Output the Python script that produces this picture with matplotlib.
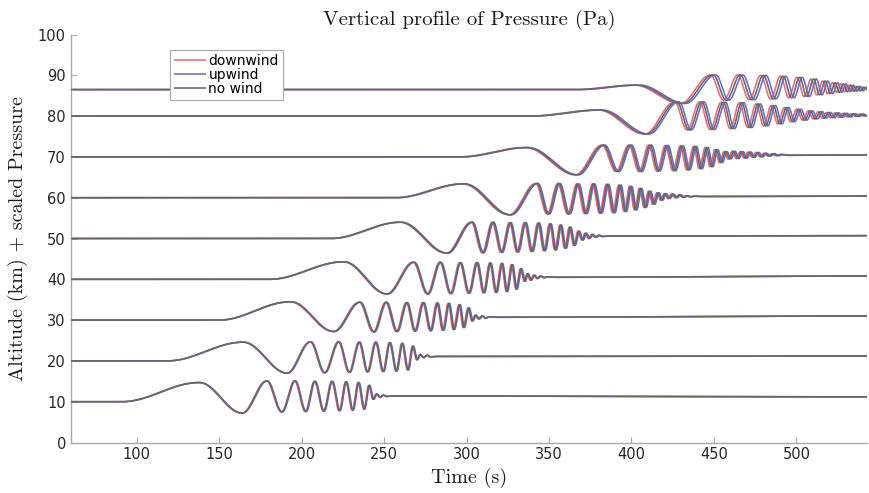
import numpy as np
import matplotlib
matplotlib.use("Agg")
import matplotlib.pyplot as plt

# ---- data ------------------------------------------------------------------
T_START, T_END = 60, 543

BASELINES = [10, 20, 30, 40, 50, 60, 70, 80, 86.5]
ONSETS = [91, 118.6, 149.9, 180.5, 217.5, 257, 296.2, 338.6, 366.9]

# extrema (hump, first trough, then alternating peaks/troughs, tail ripple),
# last entry is the level at the right edge of the plot
EXT_T_10 = [138, 164, 179, 188, 196, 202.5, 208, 213.5, 218.5, 223, 227, 231, 234.5, 238, 241, 243.5,
            245.5, 247.5, 249.5, 251.5, 255, 543]
EXT_V_10 = [14.7, 7.2, 15.1, 7.5, 15.1, 7.6, 15.0, 7.7, 15.0, 7.8, 14.9, 7.9, 14.7, 8.2, 14.0, 10.6,
            11.9, 11.1, 11.6, 11.3, 11.4, 11.2]

EXT_T_20 = [164.6, 191.3, 205.4, 214, 222.5, 229, 235, 240, 245, 249.5, 253.5, 257.5, 261, 264.5, 267.5, 270,
            272, 274, 276, 278, 282, 543]
EXT_V_20 = [24.6, 17.0, 24.7, 17.1, 24.7, 17.2, 24.6, 17.3, 24.6, 17.4, 24.5, 17.5, 24.3, 17.8, 23.6, 20.3,
            21.6, 20.8, 21.4, 21.0, 21.1, 21.2]

EXT_T_30 = [193.3, 219.5, 235.3, 243.8, 251.3, 257.8, 263.8, 268.8, 273.8, 278.3, 282.3, 285.8, 289.3, 292.3,
            295.8, 298.3, 301.3, 303.5, 305.5, 307.5, 309.5, 311.5, 313.5, 318, 543]
EXT_V_30 = [34.5, 27.2, 34.4, 27.1, 34.4, 27.2, 34.3, 27.3, 34.3, 27.4, 34.2, 27.5, 34.1, 27.7,
            33.8, 28.2, 33.0, 29.8, 31.2, 30.3, 31.0, 30.5, 30.8, 30.7, 31.0]

EXT_T_40 = [225.6, 251.8, 268, 276.5, 284.1, 290.5, 296.2, 301.5, 306.4, 310.5, 314.4, 318, 321.5, 324.5,
            327.6, 330.3, 333, 335.3, 337, 339, 341, 343, 345, 347, 349, 353, 543]
EXT_V_40 = [44.3, 36.4, 44.2, 36.4, 44.2, 36.5, 44.1, 36.6, 44.1, 36.7, 44.0, 36.8, 43.9, 37.0,
            43.6, 37.6, 42.6, 39.5, 41.4, 39.8, 41.0, 40.2, 40.8, 40.4, 40.6, 40.5, 40.8]

EXT_T_50 = [260, 288.2, 303.3, 310, 316, 321.3, 326.5, 331, 335.6, 339.7, 343.7, 347.3, 350.8, 354,
            357.1, 360, 362.8, 365.4, 368, 370.3, 372.3, 374.3, 376.3, 378.3, 380.3, 382.3, 386, 543]
EXT_V_50 = [54.0, 46.4, 54.0, 46.5, 54.0, 46.6, 53.9, 46.7, 53.9, 46.8, 53.8, 47.0, 53.6, 47.2,
            53.3, 47.6, 52.8, 48.3, 51.8, 49.6, 51.3, 50.0, 51.0, 50.3, 50.8, 50.5, 50.6, 50.7]

EXT_T_60 = [298.3, 326.5, 342.7, 349.5, 356, 362, 367.5, 372.3, 377, 381.3, 385.5, 389.3, 393, 396.3,
            399.5, 402.5, 405.5, 408.3, 411, 413.5, 416, 418.3, 420.5, 422.7, 424.9, 427.1, 429.3,
            431.5, 433.7, 435.9, 438.1, 442, 543]
EXT_V_60 = [63.4, 55.8, 63.5, 56.0, 63.5, 56.0, 63.4, 56.1, 63.4, 56.2, 63.3, 56.3, 63.1, 56.6,
            62.8, 57.0, 62.3, 57.6, 61.6, 58.4, 61.2, 59.4, 61.0, 59.8, 60.9, 60.0, 60.7, 60.1,
            60.5, 60.2, 60.4, 60.3, 60.4]

EXT_T_70 = [336.6, 366.9, 383, 391.5, 399.2, 405.5, 411.3, 416.3, 421.4, 426, 430.5, 434.5, 438.6, 442,
            445.6, 448.5, 451.5, 454.3, 457, 459.5, 462, 464.4, 466.8, 469.2, 471.6, 474, 476.4,
            478.8, 481.2, 483.6, 486, 488.4, 490.8, 495, 543]
EXT_V_70 = [72.3, 65.6, 72.9, 66.4, 72.9, 66.4, 72.9, 66.5, 72.8, 66.6, 72.7, 66.8, 72.6, 67.1,
            72.3, 67.6, 71.8, 68.6, 71.3, 69.5, 71.4, 69.6, 71.3, 69.7, 71.2, 69.9, 71.1, 70.0,
            70.9, 70.2, 70.8, 70.3, 70.6, 70.4, 70.5]

EXT_T_80 = [381, 409.3, 427.5, 435, 442.6, 449, 455.7, 461.2, 466.8, 471.8, 476.9, 481.4, 486, 490,
            494, 497.8, 501.5, 505, 508.5, 511.5, 514.5, 517, 519.5, 522, 524.5, 527, 529.5, 532,
            534.5, 537, 539.5, 542, 543]
EXT_V_80 = [81.5, 75.6, 83.5, 76.6, 83.5, 76.7, 83.4, 76.9, 83.3, 77.2, 83.0, 77.6, 82.6, 78.1,
            82.1, 78.6, 81.7, 79.0, 81.3, 79.3, 81.1, 79.5, 80.9, 79.6, 80.8, 79.7, 80.7, 79.8,
            80.6, 79.9, 80.5, 80.0, 80.2]

EXT_T_86 = [403.3, 431.3, 449.5, 457.5, 466, 473, 480, 486, 492, 497, 502, 506.3, 510.5, 514, 517.5,
            520.5, 523.5, 526, 528.5, 530.8, 533, 535, 537, 539, 541, 543]
EXT_V_86 = [87.6, 83.1, 90.1, 83.9, 90.1, 84.0, 90.0, 84.2, 89.8, 84.5, 89.5, 84.8, 89.1, 85.2, 88.6,
            85.5, 88.2, 85.8, 87.9, 86.0, 87.6, 86.1, 87.3, 86.2, 87.1, 86.5]

EXT_T = [EXT_T_10, EXT_T_20, EXT_T_30, EXT_T_40, EXT_T_50, EXT_T_60, EXT_T_70, EXT_T_80, EXT_T_86]
EXT_V = [EXT_V_10, EXT_V_20, EXT_V_30, EXT_V_40, EXT_V_50, EXT_V_60, EXT_V_70, EXT_V_80, EXT_V_86]

# arrival lag of the wind cases (s), per altitude
WIND_LAG = [0.3, 0.3, 0.4, 0.4, 0.5, 0.7, 0.9, 1.3, 1.6]

WIND_LABELS = ["downwind", "upwind", "no wind"]
WIND_SIGN = [-1, 1, 0]
WIND_COLORS = ["#e46a7e", "#6c6cc8", "#686868"]


def smooth_path(base, onset, ts, vs, n=40):
    # join the read extrema with half-cosine segments (flat slope at each node)
    knots_t = [T_START, onset] + list(ts)
    knots_v = [base, base] + list(vs)
    xs, ys = [T_START], [base]
    for i in range(1, len(knots_t)):
        t0, t1 = knots_t[i - 1], knots_t[i]
        v0, v1 = knots_v[i - 1], knots_v[i]
        u = np.linspace(0, 1, n)[1:]
        xs.extend(t0 + (t1 - t0) * u)
        ys.extend(v0 + (v1 - v0) * (1 - np.cos(np.pi * u)) / 2)
    return np.array(xs), np.array(ys)


fig = plt.figure(figsize=(8.69, 4.93), dpi=100)
ax = fig.add_axes([0.0814, 0.1024, 0.9166, 0.8276])

for base, onset, ts, vs, lag in zip(BASELINES, ONSETS, EXT_T, EXT_V, WIND_LAG):
    x, y = smooth_path(base, onset, ts, vs)
    for label, sign, col in zip(WIND_LABELS, WIND_SIGN, WIND_COLORS):
        xx = x + sign * lag
        ax.plot(xx, y, color=col, linewidth=1.15, label=label if base == BASELINES[0] else None,
                zorder=3 if sign == 0 else 2, solid_capstyle="butt")

ax.set_xlim(T_START, T_END)
ax.set_ylim(0, 100)
ax.set_xticks(range(100, 501, 50))
ax.set_yticks(range(0, 101, 10))
for side in ["top", "right"]:
    ax.spines[side].set_visible(False)
for side in ["left", "bottom"]:
    ax.spines[side].set_color("#a8a8a8")
    ax.spines[side].set_linewidth(1.0)
ax.tick_params(direction="in", length=4, color="#a8a8a8", labelsize=10.5, labelcolor="#262626")

ax.set_title("Vertical profile of Pressure (Pa)", fontname="cmr10", fontsize=15, pad=7, color="#1a1a1a")
ax.set_xlabel("Time (s)", fontname="cmr10", fontsize=14.5, labelpad=4, color="#1a1a1a")
ax.set_ylabel("Altitude (km) + scaled Pressure", fontname="cmr10", fontsize=14.5, labelpad=7, color="#1a1a1a")

leg = ax.legend(loc="upper left", bbox_to_anchor=(0.124, 0.962), borderaxespad=0, fontsize=10,
                labelspacing=0.0, handlelength=2.3, handletextpad=0.2, borderpad=0.3,
                fancybox=False, framealpha=1, edgecolor="#a8a8a8")
leg.get_frame().set_linewidth(0.8)

fig.savefig("out.png", dpi=100)
